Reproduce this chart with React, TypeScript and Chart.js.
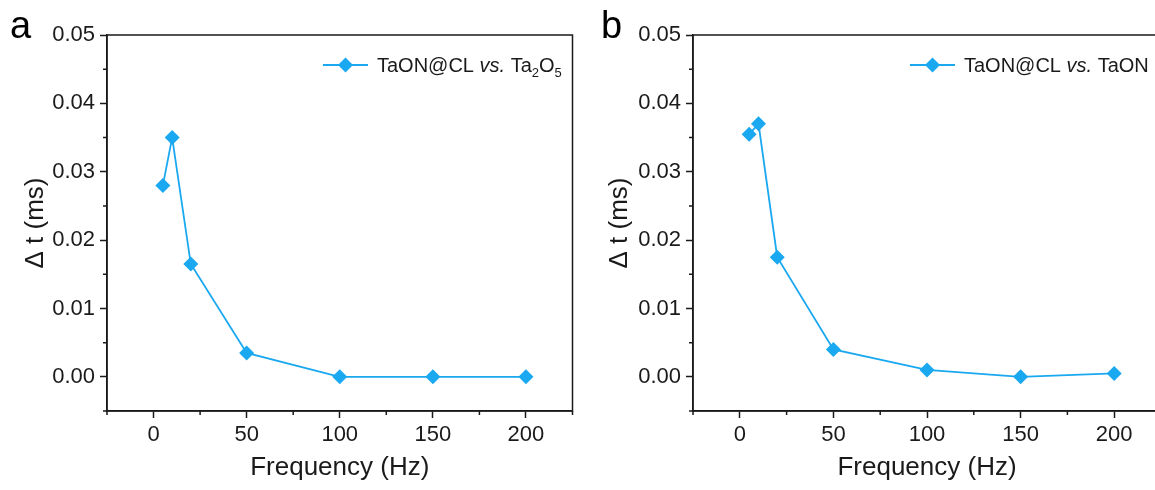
import React, { useEffect, useRef } from 'react';
import { Chart, registerables } from 'chart.js';

Chart.register(...registerables);

// ---- data ----
const frequencies = [5, 10, 20, 50, 100, 150, 200];
const deltaTa2O5 = [0.028, 0.035, 0.0165, 0.0035, 0, 0, 0];
const deltaTaON = [0.0355, 0.037, 0.0175, 0.004, 0.001, 0, 0.0005];
const xMajorTicks = [0, 50, 100, 150, 200];
const yMajorTicks = [0, 0.01, 0.02, 0.03, 0.04, 0.05];
const xTitle = 'Frequency (Hz)';
const yTitle = 'Δ t (ms)';
const legendA = [
  { t: 'TaON@CL ', s: 'n' },
  { t: 'vs.', s: 'i' },
  { t: ' Ta', s: 'n' },
  { t: '2', s: 'sub' },
  { t: 'O', s: 'n' },
  { t: '5', s: 'sub' },
];
const legendB = [
  { t: 'TaON@CL ', s: 'n' },
  { t: 'vs.', s: 'i' },
  { t: ' TaON', s: 'n' },
];

const BLUE = '#1AA8F0';
const INK = '#1a1a1a';
const FAMILY = '"Liberation Sans", Arial, Helvetica, sans-serif';

const isXMajor = (v: number) => xMajorTicks.some((m) => Math.abs(m - v) < 1e-6);
const isYMajor = (v: number) => yMajorTicks.some((m) => Math.abs(m - v) < 1e-9);

const framePlugin = {
  id: 'frameMinor',
  afterDraw(chart: any) {
    const { ctx, chartArea } = chart;
    ctx.save();
    ctx.strokeStyle = INK;
    ctx.lineWidth = 1.5;
    ctx.strokeRect(chartArea.left, chartArea.top, chartArea.right - chartArea.left, chartArea.bottom - chartArea.top);
    // minor ticks
    const xs = chart.scales.x;
    const ys = chart.scales.y;
    ctx.beginPath();
    xs.ticks.forEach((t: any) => {
      if (!isXMajor(t.value)) {
        const px = xs.getPixelForValue(t.value);
        ctx.moveTo(px, chartArea.bottom);
        ctx.lineTo(px, chartArea.bottom + 4);
      }
    });
    ys.ticks.forEach((t: any) => {
      if (!isYMajor(t.value)) {
        const py = ys.getPixelForValue(t.value);
        ctx.moveTo(chartArea.left, py);
        ctx.lineTo(chartArea.left - 4, py);
      }
    });
    ctx.stroke();
    ctx.restore();
  },
};

const legendPlugin = {
  id: 'customLegend',
  afterDatasetsDraw(chart: any, _args: any, opts: any) {
    const { ctx } = chart;
    const { lineX0, lineX1, y, textX, parts, size } = opts;
    ctx.save();
    ctx.strokeStyle = BLUE;
    ctx.lineWidth = 1.8;
    ctx.beginPath();
    ctx.moveTo(lineX0, y);
    ctx.lineTo(lineX1, y);
    ctx.stroke();
    const cx = (lineX0 + lineX1) / 2;
    const r = 7.5;
    ctx.fillStyle = BLUE;
    ctx.beginPath();
    ctx.moveTo(cx, y - r);
    ctx.lineTo(cx + r, y);
    ctx.lineTo(cx, y + r);
    ctx.lineTo(cx - r, y);
    ctx.closePath();
    ctx.fill();
    let x = textX;
    ctx.fillStyle = INK;
    ctx.textBaseline = 'alphabetic';
    ctx.textAlign = 'left';
    const base = y + size * 0.36;
    parts.forEach((p: any) => {
      let fs = size;
      let dy = 0;
      let style = '';
      if (p.s === 'i') style = 'italic ';
      if (p.s === 'sub') {
        fs = size * 0.65;
        dy = size * 0.22;
      }
      ctx.font = `${style}${fs}px ${FAMILY}`;
      ctx.fillText(p.t, x, base + dy);
      x += ctx.measureText(p.t).width;
    });
    ctx.restore();
  },
};

const letterPlugin = {
  id: 'panelLetter',
  afterDraw(chart: any, _args: any, opts: any) {
    const { ctx } = chart;
    ctx.save();
    ctx.fillStyle = '#000';
    ctx.font = `38px ${FAMILY}`;
    ctx.textBaseline = 'alphabetic';
    ctx.textAlign = 'left';
    ctx.fillText(opts.text, opts.x, opts.y);
    ctx.restore();
  },
};

type PanelProps = {
  values: number[];
  left: number;
  width: number;
  yAxisWidth: number;
  rightPad: number;
  yTitlePad: number;
  letter: string;
  letterX: number;
  legendParts: any[];
  legendX0: number;
};

function Panel(props: PanelProps) {
  const ref = useRef<HTMLCanvasElement | null>(null);
  useEffect(() => {
    if (!ref.current) return;
    const chart = new Chart(ref.current, {
      type: 'line',
      data: {
        datasets: [
          {
            data: frequencies.map((f, i) => ({ x: f, y: props.values[i] })),
            borderColor: BLUE,
            backgroundColor: BLUE,
            pointBackgroundColor: BLUE,
            pointBorderColor: BLUE,
            pointStyle: 'rectRot',
            pointRadius: 7.5,
            pointBorderWidth: 0,
            borderWidth: 1.8,
            tension: 0,
          },
        ],
      },
      options: {
        responsive: false,
        animation: false,
        events: [],
        layout: { padding: { left: 0, top: 35, right: props.rightPad, bottom: 0 } },
        plugins: {
          legend: { display: false },
          tooltip: { enabled: false },
          customLegend: {
            lineX0: props.legendX0,
            lineX1: props.legendX0 + 45,
            y: 65,
            textX: props.legendX0 + 54,
            parts: props.legendParts,
            size: 20,
          },
          panelLetter: { text: props.letter, x: props.letterX, y: 38 },
        } as any,
        scales: {
          x: {
            type: 'linear',
            min: -25,
            max: 225,
            afterFit: (s: any) => {
              s.height = 79;
            },
            ticks: {
              stepSize: 25,
              autoSkip: false,
              maxRotation: 0,
              padding: 4,
              color: INK,
              font: { family: FAMILY, size: 22 },
              callback: (v: any) => (isXMajor(Number(v)) ? String(Number(v)) : ''),
            },
            grid: {
              drawOnChartArea: false,
              drawTicks: true,
              tickLength: 7,
              tickWidth: 1.5,
              tickColor: (c: any) => (c.tick && isXMajor(c.tick.value) ? INK : 'rgba(0,0,0,0)'),
            },
            border: { display: true, color: INK, width: 1.5 },
            title: {
              display: true,
              text: xTitle,
              color: INK,
              font: { family: FAMILY, size: 26 },
              padding: { top: 0, bottom: 7 },
            },
          },
          y: {
            type: 'linear',
            min: -0.005,
            max: 0.05,
            afterFit: (s: any) => {
              s.width = props.yAxisWidth;
            },
            ticks: {
              stepSize: 0.005,
              autoSkip: false,
              padding: 5,
              color: INK,
              font: { family: FAMILY, size: 22 },
              callback: (v: any) => (isYMajor(Number(v)) ? Number(v).toFixed(2) : ''),
            },
            grid: {
              drawOnChartArea: false,
              drawTicks: true,
              tickLength: 7,
              tickWidth: 1.5,
              tickColor: (c: any) => (c.tick && isYMajor(c.tick.value) ? INK : 'rgba(0,0,0,0)'),
            },
            border: { display: true, color: INK, width: 1.5 },
            title: {
              display: true,
              text: yTitle,
              color: INK,
              font: { family: FAMILY, size: 26 },
              padding: { top: props.yTitlePad, bottom: 0 },
            },
          },
        },
      },
      plugins: [framePlugin, legendPlugin, letterPlugin],
    });
    return () => chart.destroy();
  }, []);
  return (
    <canvas
      ref={ref}
      width={props.width}
      height={490}
      style={{ position: 'absolute', left: props.left, top: 0, width: props.width, height: 490 }}
    />
  );
}

export default function App() {
  return (
    <div
      style={{
        position: 'fixed',
        left: 0,
        top: 0,
        width: 1155,
        height: 490,
        overflow: 'hidden',
        background: '#fff',
      }}
    >
      <Panel
        values={deltaTa2O5}
        left={0}
        width={580}
        yAxisWidth={107}
        rightPad={5}
        yTitlePad={20}
        letter="a"
        letterX={10}
        legendParts={legendA}
        legendX0={323}
      />
      <Panel
        values={deltaTaON}
        left={580}
        width={600}
        yAxisWidth={113}
        rightPad={19}
        yTitlePad={24}
        letter="b"
        letterX={21}
        legendParts={legendB}
        legendX0={330}
      />
    </div>
  );
}
